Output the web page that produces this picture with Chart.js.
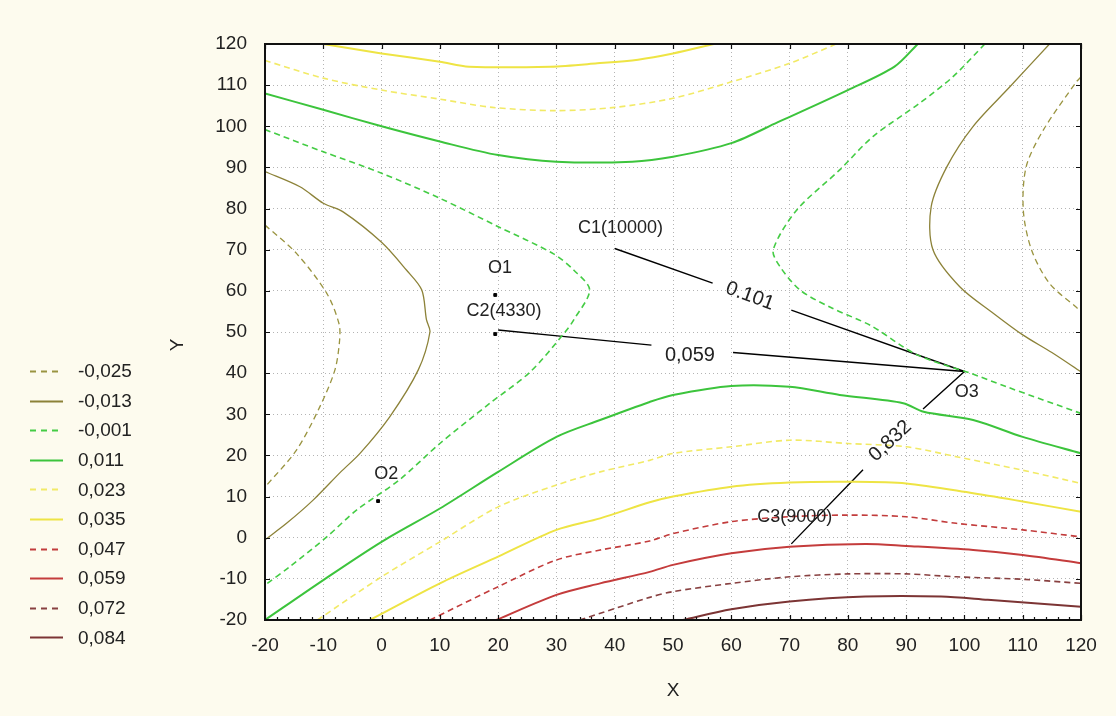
<!DOCTYPE html>
<html>
<head>
<meta charset="utf-8">
<script src="https://cdn.jsdelivr.net/npm/chart.js@4.4.1/dist/chart.umd.min.js"></script>
<style>
  html, body { margin: 0; background: #fdfbee; }
  canvas { display: block; }
</style>
</head>
<body>
<canvas id="contour" width="1116" height="716"></canvas>
<script>
// contour levels (legend)
const levelNames = ["-0,025", "-0,013", "-0,001", "0,011", "0,023", "0,035", "0,047", "0,059", "0,072", "0,084"];
const levelColors = ["#9a9440", "#8c8238", "#44cc44", "#3cc43c", "#f2ea66", "#eee444", "#c23c3c", "#c43c3c", "#884040", "#7c3434"];
const levelDashed = [true, false, true, false, true, false, true, false, true, false];

// axis ticks
const xTicks = [-20, -10, 0, 10, 20, 30, 40, 50, 60, 70, 80, 90, 100, 110, 120];
const yTicks = [-20, -10, 0, 10, 20, 30, 40, 50, 60, 70, 80, 90, 100, 110, 120];

// contour lines, [x, y]
const c025Left = [[-20, 76], [-14.6, 69.1], [-9.4, 59.4], [-7.3, 52], [-7.2, 48], [-8, 40.8], [-10.6, 31.8], [-14.6, 21.3], [-20, 12.3]];
const c025Right = [[120, 112], [119.2, 110.8], [113.5, 99], [110.6, 90.2], [110.1, 79.6], [111.5, 70], [114.6, 61.8], [119.2, 56], [120, 55]];
const c013Left = [[-20, 89], [-14, 85.3], [-10, 81.3], [-6.6, 79.2], [0, 71.8], [4.3, 65], [6.9, 60.2], [7.7, 53], [8.3, 50], [6.3, 40.8], [1.4, 29.4], [-3.7, 20.5], [-7, 16], [-11.7, 9.2], [-16.3, 3.5], [-20, -0.5]];
const c013Right = [[114.6, 120], [107.8, 109.6], [101.5, 100], [97, 90.2], [94.3, 80.5], [94.6, 70], [99.2, 61], [105, 54.5], [110, 49.3], [115, 45], [120, 40.3]];
const c001Left = [[-20, 99.2], [-10, 93.8], [0, 88.6], [10, 82.5], [20, 75.6], [29.5, 69], [33, 65], [35.7, 60.2], [33, 53], [31.5, 50], [25.5, 40.3], [18.6, 32.7], [10, 22.9], [3, 14], [-4.3, 6.7], [-9.4, 0.2], [-15.7, -7], [-20, -11.5]];
const c001Right = [[103.5, 120], [98, 112], [92.3, 105.6], [84.3, 97.5], [78.6, 89.4], [71.2, 79.6], [67.2, 70], [68.3, 66], [71.8, 60.2], [77, 56], [84, 51.5], [91.8, 44.5], [101, 40], [107, 36.8], [120, 30.2]];
const c011Top = [[-20, 108], [-10, 104], [0, 100], [10, 96.3], [20, 93], [30, 91.4], [43, 91.4], [50, 92.6], [60, 95.9], [68, 101], [80, 108.8], [88, 114.5], [92, 120]];
const c011Bottom = [[-20, -20], [-10, -10.3], [0, -1], [10, 7.1], [20, 16], [30, 24.5], [37.5, 28.6], [46, 33], [50, 34.7], [60, 36.9], [70, 36.7], [78.6, 34.7], [89.5, 32.7], [93, 30.6], [101.5, 28.6], [110, 24.5], [120, 20.5]];
const c023Top = [[-20, 116], [-10, 111.7], [0, 108.8], [10, 106.6], [19, 104.6], [30, 103.8], [40, 104.6], [50, 106.8], [60, 110.8], [70, 115.3], [78, 120]];
const c023Bottom = [[-11, -20], [0, -9.5], [10, -1], [20, 7.5], [30, 12.8], [37.5, 16], [46, 18.8], [50, 20.5], [60, 22.1], [70, 23.7], [80, 22.9], [90, 22.1], [98.6, 19.7], [110, 16.4], [120, 13.2]];
const c035Top = [[-10, 120], [0, 117.7], [10, 115.7], [15, 114.5], [29, 114.5], [37, 115.3], [44, 116.2], [50, 117.7], [57, 120]];
const c035Bottom = [[-2, -20], [10, -11.1], [20, -4.6], [30, 1.9], [37.5, 4.7], [46, 8.6], [50, 10], [60, 12.4], [70, 13.4], [80, 13.6], [90, 13.2], [101.5, 10.8], [110, 8.8], [120, 6.3]];
const c047 = [[8.3, -20], [20, -11.9], [30, -5.4], [37.5, -3], [46, -0.8], [50, 1], [60, 3.9], [70, 5.1], [80, 5.5], [90, 5.1], [98.6, 3.5], [110, 1.9], [120, 0.2]];
const c059 = [[19.7, -20], [30, -13.9], [37.5, -11.1], [46, -8.3], [50, -6.6], [60, -3.8], [70, -2.2], [83, -1.5], [90, -2], [101.5, -3], [110, -4.2], [120, -6.2]];
const c072 = [[34, -20], [46, -14.5], [50, -13.1], [60, -11.1], [70, -9.5], [80, -8.8], [90, -8.8], [98.6, -9.5], [110, -10.1], [120, -11.1]];
const c084 = [[51.7, -20], [60, -17.4], [70, -15.5], [83, -14.3], [96, -14.3], [104, -15.1], [120, -16.8]];

const segments = [
  [0, c025Left], [0, c025Right], [1, c013Left], [1, c013Right],
  [2, c001Left], [2, c001Right], [3, c011Top], [3, c011Bottom],
  [4, c023Top], [4, c023Bottom], [5, c035Top], [5, c035Bottom],
  [6, c047], [7, c059], [8, c072], [9, c084]
];

// connector lines to O3 (null = gap for the label)
const linkC1 = [[40, 70.3], [56.8, 61.9], null, [70.3, 55.3], [100, 40.4]];
const linkC2 = [[20, 50.5], [30.6, 49], [46.3, 46.8], null, [60.3, 45], [100, 40.4]];
const linkC3 = [[70.3, -1.5], [82.6, 16.5], null, [92.9, 31.3], [100, 40.4]];
const linkLabels = ["0.101", "0,059", "0,832"];
const linkLabelX = [63.2, 52.9, 87.3];
const linkLabelY = [58.7, 44.2, 23.5];
const linkLabelAngle = [20, 0, -43];

// marked points and their names
const dotX = [19.5, 19.5, -0.6];
const dotY = [59, 49.5, 8.9];
const markNames = ["C1(10000)", "O1", "C2(4330)", "O2", "O3", "C3(9000)"];
const markX = [41, 20.3, 21, 0.8, 100.4, 70.9];
const markY = [75.3, 65.6, 55.1, 15.5, 35.5, 5];

const toPts = arr => arr.map(p => p ? { x: p[0], y: p[1] } : { x: NaN, y: null });

const datasets = segments.map(([lv, pts]) => ({
  label: levelNames[lv],
  data: toPts(pts),
  showLine: true,
  borderColor: levelColors[lv],
  borderWidth: lv < 2 ? 1.3 : (levelDashed[lv] ? 1.6 : 2),
  borderDash: levelDashed[lv] ? [6, 4] : [],
  pointRadius: 0,
  tension: 0.3,
  fill: false
}));

[linkC1, linkC2, linkC3].forEach(l => datasets.push({
  label: "link",
  data: toPts(l),
  showLine: true,
  spanGaps: false,
  borderColor: "#000",
  borderWidth: 1.4,
  pointRadius: 0,
  tension: 0
}));

datasets.push({
  label: "dots",
  data: dotX.map((x, i) => ({ x, y: dotY[i] })),
  showLine: false,
  pointStyle: "rect",
  pointRadius: 2,
  backgroundColor: "#000",
  borderColor: "#000"
});

const FONT = "'Liberation Sans', Arial, sans-serif";

const decor = {
  id: "decor",
  beforeDraw(chart) {
    const { ctx, chartArea: a } = chart;
    ctx.save();
    ctx.fillStyle = "#fff";
    ctx.fillRect(a.left, a.top, a.right - a.left, a.bottom - a.top);
    ctx.restore();
  },
  afterDatasetsDraw(chart) {
    const { ctx, chartArea: a, scales: { x, y } } = chart;
    ctx.save();
    // frame
    ctx.strokeStyle = "#111";
    ctx.lineWidth = 2;
    ctx.strokeRect(a.left, a.top, a.right - a.left, a.bottom - a.top);
    // inward ticks
    ctx.lineWidth = 1.2;
    ctx.beginPath();
    xTicks.forEach(v => {
      const px = Math.round(x.getPixelForValue(v)) + 0.5;
      ctx.moveTo(px, a.top); ctx.lineTo(px, a.top + 5);
      ctx.moveTo(px, a.bottom); ctx.lineTo(px, a.bottom - 5);
    });
    for (let v = -20; v <= 120; v += 2) {
      const px = Math.round(x.getPixelForValue(v)) + 0.5;
      ctx.moveTo(px, a.bottom); ctx.lineTo(px, a.bottom - 3);
    }
    yTicks.forEach(v => {
      const py = Math.round(y.getPixelForValue(v)) + 0.5;
      ctx.moveTo(a.left, py); ctx.lineTo(a.left + 5, py);
      ctx.moveTo(a.right, py); ctx.lineTo(a.right - 5, py);
    });
    ctx.stroke();

    ctx.fillStyle = "#222";
    ctx.textAlign = "center";
    ctx.textBaseline = "middle";
    // y axis title, a little below the middle as in the original
    ctx.save();
    ctx.font = "19px " + FONT;
    ctx.translate(178, 345);
    ctx.rotate(-Math.PI / 2);
    ctx.fillText("Y", 0, 0);
    ctx.restore();

    // point names
    ctx.font = "18px " + FONT;
    markNames.forEach((t, i) => {
      ctx.fillText(t, x.getPixelForValue(markX[i]), y.getPixelForValue(markY[i]));
    });
    // connector labels
    ctx.font = "20px " + FONT;
    linkLabels.forEach((t, i) => {
      ctx.save();
      ctx.translate(x.getPixelForValue(linkLabelX[i]), y.getPixelForValue(linkLabelY[i]));
      ctx.rotate(linkLabelAngle[i] * Math.PI / 180);
      ctx.fillText(t, 0, 0);
      ctx.restore();
    });

    // legend
    ctx.textAlign = "left";
    ctx.font = "19px " + FONT;
    levelNames.forEach((name, i) => {
      const cy = 371 + i * 29.6;
      ctx.strokeStyle = levelColors[i];
      ctx.lineWidth = 2;
      ctx.setLineDash(levelDashed[i] ? [6, 5] : []);
      ctx.beginPath();
      ctx.moveTo(30, Math.round(cy) + 0.5);
      ctx.lineTo(63, Math.round(cy) + 0.5);
      ctx.stroke();
      ctx.setLineDash([]);
      ctx.fillStyle = "#222";
      ctx.fillText(name, 78, cy + 1);
    });
    ctx.restore();
  }
};

new Chart(document.getElementById("contour"), {
  type: "scatter",
  data: { datasets },
  plugins: [decor],
  options: {
    responsive: false,
    devicePixelRatio: 1,
    animation: false,
    layout: { padding: { left: 165, top: 44, right: 35, bottom: 0 } },
    plugins: {
      legend: { display: false },
      tooltip: { enabled: false }
    },
    scales: {
      x: {
        type: "linear",
        min: -20,
        max: 120,
        afterBuildTicks: s => { s.ticks = xTicks.map(v => ({ value: v })); },
        afterFit: s => { s.height = 96; },
        grid: { color: "#b4b4b4", lineWidth: 1, drawTicks: false },
        border: { display: false, dash: [1, 3] },
        ticks: { padding: 14, color: "#222", font: { family: FONT, size: 19 } },
        title: { display: true, text: "X", color: "#222", font: { family: FONT, size: 19 }, padding: { top: 4, bottom: 14 } }
      },
      y: {
        type: "linear",
        min: -20,
        max: 120,
        afterBuildTicks: s => { s.ticks = yTicks.map(v => ({ value: v })); },
        afterFit: s => { s.width = 100; },
        grid: { color: "#b4b4b4", lineWidth: 1, drawTicks: false },
        border: { display: false, dash: [1, 3] },
        ticks: { padding: 18, color: "#222", font: { family: FONT, size: 19 } },
        title: { display: false }
      }
    }
  }
});
</script>
</body>
</html>
